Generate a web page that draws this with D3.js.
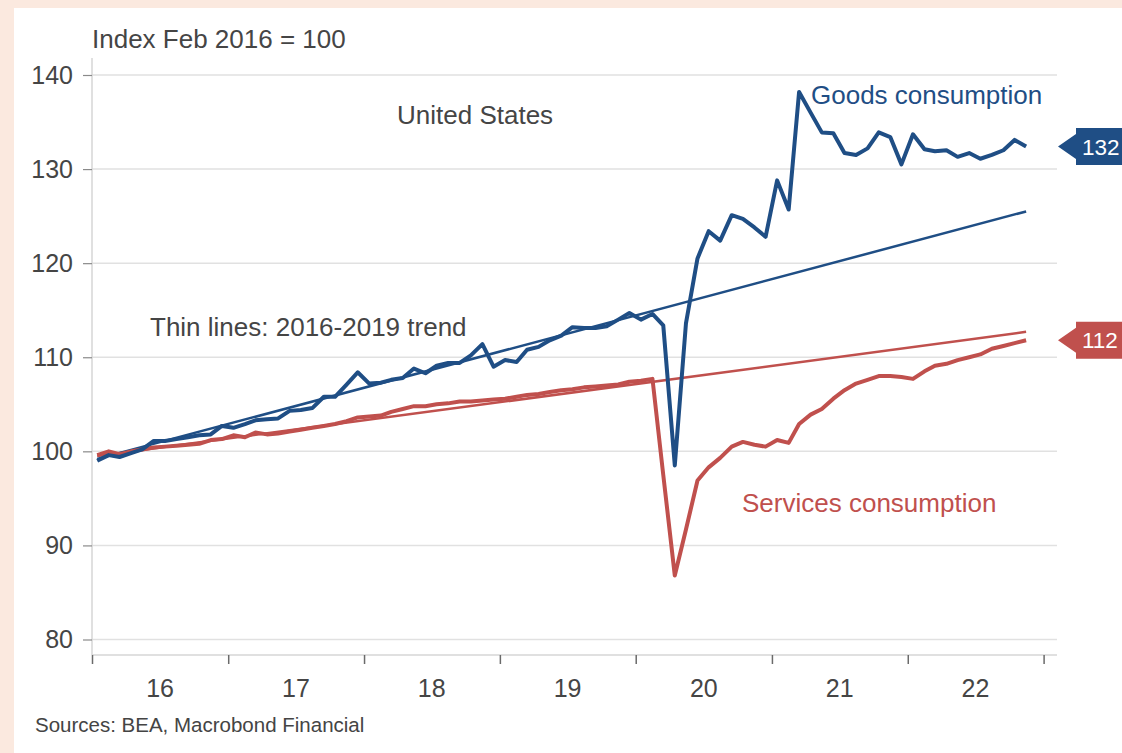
<!DOCTYPE html>
<html>
<head>
<meta charset="utf-8">
<script src="https://cdnjs.cloudflare.com/ajax/libs/d3/7.8.5/d3.min.js"></script>
<style>
  body { margin: 0; background: #fbe9df; }
  svg { display: block; font-family: "Liberation Sans", Arial, sans-serif; }
</style>
</head>
<body>
<svg id="chart" width="1122" height="753"></svg>
<script>
// monthly data, Jan 2016 .. Nov 2022, index Feb 2016 = 100
var firstMonth = new Date(2016, 0, 15);

var goods = [
  99.0, 99.6, 99.4, 99.8, 100.2, 101.1, 101.1, 101.3, 101.5, 101.7, 101.8, 102.7,   // 2016
  102.5, 102.9, 103.3, 103.4, 103.5, 104.3, 104.4, 104.6, 105.8, 105.8, 107.1, 108.4, // 2017
  107.2, 107.3, 107.6, 107.8, 108.8, 108.3, 109.1, 109.4, 109.4, 110.2, 111.4, 109.0, // 2018
  109.7, 109.5, 110.8, 111.1, 111.8, 112.3, 113.2, 113.1, 113.1, 113.3, 114.0, 114.7, // 2019
  114.0, 114.6, 113.4, 98.5, 113.6, 120.5, 123.4, 122.4, 125.1, 124.7, 123.8, 122.8,  // 2020
  128.8, 125.7, 138.2, 136.0, 133.9, 133.8, 131.7, 131.5, 132.2, 133.9, 133.4, 130.5, // 2021
  133.7, 132.1, 131.9, 132.0, 131.3, 131.7, 131.1, 131.5, 132.0, 133.1, 132.4         // 2022
];

var services = [
  99.6, 100.0, 99.7, 100.0, 100.2, 100.4, 100.5, 100.6, 100.7, 100.8, 101.2, 101.3,   // 2016
  101.7, 101.5, 102.0, 101.8, 101.9, 102.1, 102.3, 102.5, 102.7, 102.9, 103.2, 103.6, // 2017
  103.7, 103.8, 104.2, 104.5, 104.8, 104.8, 105.0, 105.1, 105.3, 105.3, 105.4, 105.5, // 2018
  105.6, 105.8, 106.0, 106.1, 106.3, 106.5, 106.6, 106.8, 106.9, 107.0, 107.1, 107.4, // 2019
  107.5, 107.7, 97.5, 86.8, 91.7, 96.9, 98.3, 99.3, 100.5, 101.0, 100.7, 100.5,      // 2020
  101.2, 100.9, 102.9, 103.9, 104.5, 105.6, 106.5, 107.2, 107.6, 108.0, 108.0, 107.9, // 2021
  107.7, 108.5, 109.1, 109.3, 109.7, 110.0, 110.3, 110.9, 111.2, 111.5, 111.8         // 2022
];

// 2016-2019 trend, value at first and last month
var goodsTrend = [99.2, 125.5];
var servicesTrend = [99.5, 112.7];

var yTicks = [80, 90, 100, 110, 120, 130, 140];
var yearTicks = [2016, 2017, 2018, 2019, 2020, 2021, 2022, 2023];
var yearLabels = ["16", "17", "18", "19", "20", "21", "22"];

var goodsColor = "#1f4e85";
var servicesColor = "#c0504d";
var textColor = "#454545";

var svg = d3.select("#chart");
var W = 1122, H = 753;

// frame
svg.append("rect").attr("width", W).attr("height", H).attr("fill", "#fbe9df");
svg.append("rect").attr("x", 14).attr("y", 8).attr("width", W - 14).attr("height", H - 8).attr("fill", "#ffffff");

var plotLeft = 92, plotRight = 1057, plotTop = 58, plotBottom = 655;

var x = d3.scaleTime()
  .domain([new Date(2016, 0, 1), new Date(2023, 0, 1)])
  .range([92, 1043.6]);

var y = d3.scaleLinear()
  .domain([80, 140])
  .range([639.5, 75]);

function monthDate(i) {
  return new Date(firstMonth.getFullYear(), firstMonth.getMonth() + i, 15);
}

// gridlines
svg.append("g").selectAll("line")
  .data(yTicks)
  .enter().append("line")
  .attr("x1", plotLeft).attr("x2", plotRight)
  .attr("y1", function(d) { return y(d); })
  .attr("y2", function(d) { return y(d); })
  .attr("stroke", "#e1e1e1").attr("stroke-width", 1.5);

// axis lines
svg.append("line")
  .attr("x1", plotLeft).attr("x2", plotLeft)
  .attr("y1", plotTop).attr("y2", plotBottom)
  .attr("stroke", "#d6d6d6").attr("stroke-width", 1.5);
svg.append("line")
  .attr("x1", plotLeft).attr("x2", plotRight)
  .attr("y1", plotBottom).attr("y2", plotBottom)
  .attr("stroke", "#d6d6d6").attr("stroke-width", 1.5);

// y axis
var yAxis = svg.append("g")
  .attr("transform", "translate(" + plotLeft + ",0)")
  .call(d3.axisLeft(y).tickValues(yTicks).tickSize(9).tickPadding(10));
yAxis.select(".domain").remove();
yAxis.selectAll(".tick line").attr("stroke", "#8a8a8a").attr("stroke-width", 1.2);
yAxis.selectAll(".tick text")
  .attr("fill", textColor)
  .style("font-size", "25px")
  .style("font-family", "'Liberation Sans', Arial, sans-serif");

// x axis: ticks on year boundaries, labels mid-year
var xAxis = svg.append("g")
  .attr("transform", "translate(0," + plotBottom + ")")
  .call(d3.axisBottom(x)
    .tickValues(yearTicks.map(function(yr) { return new Date(yr, 0, 1); }))
    .tickSize(9)
    .tickFormat(""));
xAxis.select(".domain").remove();
xAxis.selectAll(".tick line").attr("stroke", "#6a6a6a").attr("stroke-width", 1.5);

svg.append("g").selectAll("text")
  .data(yearLabels)
  .enter().append("text")
  .attr("x", function(d, i) { return x(new Date(yearTicks[i], 6, 2)); })
  .attr("y", 697)
  .attr("text-anchor", "middle")
  .attr("fill", textColor)
  .style("font-size", "25px")
  .text(function(d) { return d; });

// trend lines
function trendPoints(t) {
  return [
    { date: monthDate(0), v: t[0] },
    { date: monthDate(goods.length - 1), v: t[1] }
  ];
}

var line = d3.line()
  .x(function(d) { return x(d.date); })
  .y(function(d) { return y(d.v); });

svg.append("path")
  .datum(trendPoints(servicesTrend))
  .attr("d", line)
  .attr("fill", "none")
  .attr("stroke", servicesColor)
  .attr("stroke-width", 2.5);

svg.append("path")
  .datum(trendPoints(goodsTrend))
  .attr("d", line)
  .attr("fill", "none")
  .attr("stroke", goodsColor)
  .attr("stroke-width", 2.5);

// actual series
var servicesData = services.map(function(v, i) { return { date: monthDate(i), v: v }; });
var goodsData = goods.map(function(v, i) { return { date: monthDate(i), v: v }; });

svg.append("path")
  .datum(servicesData)
  .attr("d", line)
  .attr("fill", "none")
  .attr("stroke", servicesColor)
  .attr("stroke-width", 4)
  .attr("stroke-linejoin", "round");

svg.append("path")
  .datum(goodsData)
  .attr("d", line)
  .attr("fill", "none")
  .attr("stroke", goodsColor)
  .attr("stroke-width", 4)
  .attr("stroke-linejoin", "round");

// annotations
function label(txt, lx, ly, size, color) {
  svg.append("text")
    .attr("x", lx).attr("y", ly)
    .attr("fill", color)
    .style("font-size", size + "px")
    .text(txt);
}

label("Index Feb 2016 = 100", 92, 48, 26, textColor);
label("United States", 397, 124, 26, textColor);
label("Thin lines: 2016-2019 trend", 150, 336, 26, textColor);
label("Goods consumption", 811, 104, 26, goodsColor);
label("Services consumption", 742, 512, 26, servicesColor);
label("Sources: BEA, Macrobond Financial", 35, 732, 20.5, "#444444");

// last value tags at the right
function valueTag(series, color) {
  var last = series[series.length - 1];
  var cy = y(last);
  var tipX = 1058, boxX = 1076;
  svg.append("path")
    .attr("d", "M" + tipX + "," + cy +
      " L" + boxX + "," + (cy - 12.5) +
      " L" + boxX + "," + (cy - 18.5) +
      " L" + (W + 5) + "," + (cy - 18.5) +
      " L" + (W + 5) + "," + (cy + 18.5) +
      " L" + boxX + "," + (cy + 18.5) +
      " L" + boxX + "," + (cy + 12.5) + " Z")
    .attr("fill", color);
  svg.append("text")
    .attr("x", 1082).attr("y", cy + 8)
    .attr("fill", "#ffffff")
    .style("font-size", "22.5px")
    .text(Math.round(last));
}

valueTag(goods, goodsColor);
valueTag(services, servicesColor);
</script>
</body>
</html>
